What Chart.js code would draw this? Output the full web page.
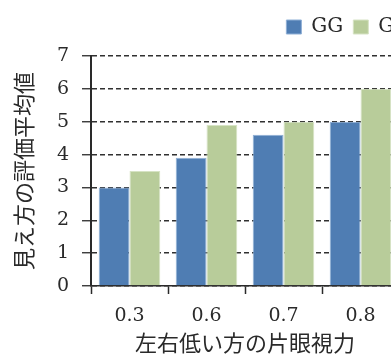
<!DOCTYPE html>
<html>
<head>
<meta charset="utf-8">
<script src="https://cdn.jsdelivr.net/npm/chart.js@4"></script>
<style>
  html, body { margin: 0; padding: 0; background: #fff; overflow: hidden; }
  #wrap { width: 391px; height: 354px; overflow: hidden; position: relative; }
  canvas { display: block; }
</style>
</head>
<body>
<div id="wrap"><canvas id="c" width="418" height="354"></canvas></div>
<script>
// 左右低い方の片眼視力ごとの見え方の評価平均値
const categories = ['0.3', '0.6', '0.7', '0.8'];
const seriesNames = ['GG', 'GS'];
const valuesGG = [3.0, 3.9, 4.6, 5.0];
const valuesGS = [3.5, 4.9, 5.0, 6.0];
const yTicks = [0, 1, 2, 3, 4, 5, 6, 7];

const serif = '"DejaVu Serif", "Liberation Serif", serif';
const gothic = '"Noto Sans CJK JP", "Noto Sans", sans-serif';
const ink = '#2a2a2a';

// blank strip used only to reserve space beside the plot
const spacer = (size) => ({
  type: 'linear',
  display: true,
  afterFit: (s) => { if (s.isHorizontal()) { s.height = size; } else { s.width = size; } },
  grid: { display: false },
  border: { display: false },
  ticks: { display: false }
});

new Chart(document.getElementById('c'), {
  type: 'bar',
  data: {
    labels: categories,
    datasets: [
      {
        label: seriesNames[0],
        data: valuesGG,
        backgroundColor: '#4f7db3',
        borderColor: '#8fb0d6',
        borderWidth: 1,
        categoryPercentage: 0.8,
        barPercentage: 1.0
      },
      {
        label: seriesNames[1],
        data: valuesGS,
        backgroundColor: '#b8cc9a',
        borderColor: '#d6e3c4',
        borderWidth: 1,
        categoryPercentage: 0.8,
        barPercentage: 1.0
      }
    ]
  },
  options: {
    responsive: false,
    animation: false,
    layout: { padding: { left: 0, right: 0, top: 7, bottom: 0 } },
    plugins: {
      tooltip: { enabled: false },
      legend: {
        position: 'top',
        align: 'end',
        labels: {
          boxWidth: 15,
          boxHeight: 14,
          padding: 10,
          color: ink,
          font: { family: serif, size: 20 }
        }
      }
    },
    scales: {
      x: {
        afterFit: (s) => { s.height = 68; },
        grid: {
          offset: true,
          drawOnChartArea: false,
          tickLength: 8,
          tickColor: ink,
          tickWidth: 1.5
        },
        border: { color: ink, width: 1.5 },
        ticks: {
          color: ink,
          padding: 11,
          font: { family: serif, size: 19 }
        },
        title: {
          display: true,
          text: '左右低い方の片眼視力',
          color: ink,
          padding: { top: 0, bottom: 0 },
          font: { family: gothic, size: 22, lineHeight: 1.05 }
        }
      },
      y: {
        min: 0,
        max: 7,
        afterFit: (s) => { s.width = 91; },
        afterBuildTicks: (s) => { s.ticks = yTicks.map(v => ({ value: v })); },
        grid: {
          color: '#303030',
          lineWidth: 1.5,
          tickLength: 9,
          tickColor: ink,
          tickWidth: 1.3,
          tickBorderDash: []
        },
        border: { color: ink, width: 2, dash: [5, 3] },
        ticks: {
          color: ink,
          padding: 13,
          font: { family: serif, size: 19 }
        },
        title: {
          display: true,
          text: '見え方の評価平均値',
          color: ink,
          padding: { top: 10, bottom: 0 },
          font: { family: gothic, size: 22 }
        }
      },
      gapTop: Object.assign(spacer(9), { position: 'top' }),
      gapRight: Object.assign(spacer(19), { position: 'right' })
    }
  }
});
</script>
</body>
</html>
